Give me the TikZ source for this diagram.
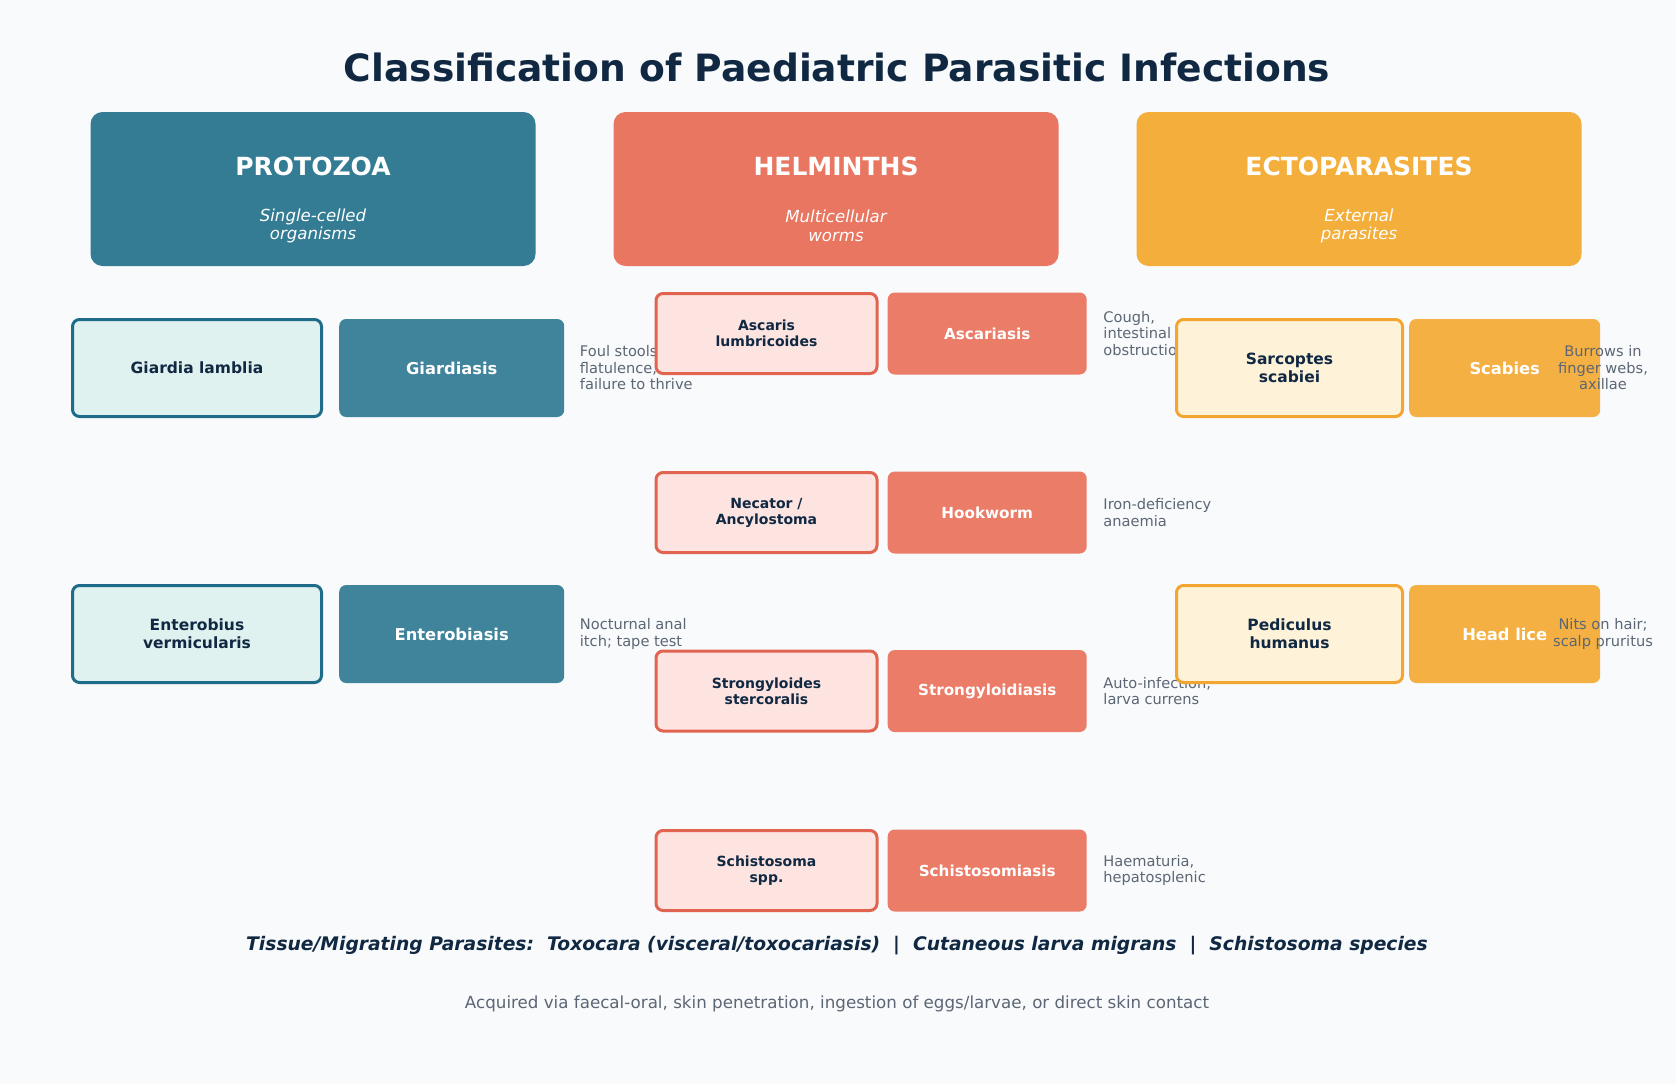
\documentclass[tikz,border=0pt]{standalone}
\usepackage{fontspec}
\setmainfont{DejaVu Sans}
\usetikzlibrary{positioning,calc}
\definecolor{bgpaper}{RGB}{248,250,252}
\definecolor{navyink}{RGB}{16,40,66}
\definecolor{noteink}{RGB}{92,102,116}
\definecolor{protohead}{RGB}{51,124,148}
\definecolor{protodis}{RGB}{64,132,156}
\definecolor{protoline}{RGB}{30,108,138}
\definecolor{protofill}{RGB}{224,242,240}
\definecolor{helmhead}{RGB}{232,118,96}
\definecolor{helmdis}{RGB}{234,124,104}
\definecolor{helmline}{RGB}{224,100,80}
\definecolor{helmfill}{RGB}{253,228,225}
\definecolor{ectohead}{RGB}{244,174,59}
\definecolor{ectodis}{RGB}{244,176,66}
\definecolor{ectoline}{RGB}{242,165,48}
\definecolor{ectofill}{RGB}{254,242,217}
\tikzset{
  grouphead/.style={fill=#1,rounded corners=12pt,minimum width=445pt,minimum height=154pt},
  group title/.style={font=\fontsize{25}{29}\selectfont\bfseries,text=white},
  group sub/.style={font=\fontsize{16.6}{18.5}\selectfont\itshape,text=white,align=center},
  species/.style={draw=#1line,fill=#1fill,line width=3pt,rounded corners=7pt,
    text=navyink,align=center},
  disease/.style={fill=#1dis,rounded corners=7pt,text=white,align=center},
  note/.style={text=noteink,font=\fontsize{14.6}{16.5}\selectfont},
  % one size per column
  proto sp/.style={species=proto,minimum width=249pt,minimum height=97pt,
    font=\fontsize{15.5}{18}\selectfont\bfseries},
  proto dis/.style={disease=proto,minimum width=225pt,minimum height=98pt,
    font=\fontsize{16.3}{19}\selectfont\bfseries},
  helm sp/.style={species=helm,minimum width=221pt,minimum height=80pt,
    font=\fontsize{14}{16}\selectfont\bfseries},
  helm dis/.style={disease=helm,minimum width=199pt,minimum height=82pt,
    font=\fontsize{15.2}{18}\selectfont\bfseries},
  ecto sp/.style={species=ecto,minimum width=226pt,minimum height=97pt,
    font=\fontsize{15.5}{18}\selectfont\bfseries},
  ecto dis/.style={disease=ecto,minimum width=191pt,minimum height=98pt,
    font=\fontsize{16.3}{19}\selectfont\bfseries},
}
\begin{document}
\begin{tikzpicture}[x=1pt,y=-1pt]
  \useasboundingbox[fill=bgpaper] (0,0) rectangle (1676,1084);
  \node[font=\fontsize{37.6}{44}\selectfont\bfseries,text=navyink] (title) at (837,67)
    {Classification of Paediatric Parasitic Infections};

  % group headers
  \node[grouphead=protohead] (pz) at (313,189) {};
  \node[group title] (pzt) at ([yshift=23pt]pz.center) {PROTOZOA};
  \node[group sub] (pzs) at ([yshift=-37pt]pz.center) {Single-celled\\organisms};
  \node[grouphead=helmhead] (hm) at (836,189) {};
  \node[group title] (hmt) at ([yshift=23pt]hm.center) {HELMINTHS};
  \node[group sub] (hms) at ([yshift=-37pt]hm.center) {Multicellular\\worms};
  \node[grouphead=ectohead] (ec) at (1359,189) {};
  \node[group title] (ect) at ([yshift=23pt]ec.center) {ECTOPARASITES};
  \node[group sub] (ecs) at ([yshift=-37pt]ec.center) {External\\parasites};

  % protozoa
  \node[proto sp] (gl) at (197,368) {Giardia lamblia};
  \node[proto dis,right=16pt of gl] (gd) {Giardiasis};
  \node[note,align=left,right=12pt of gd] (gdn) {Foul stools,\\flatulence,\\failure to thrive};
  \node[proto sp] (ev) at (197,634) {Enterobius\\vermicularis};
  \node[proto dis,right=16pt of ev] (ed) {Enterobiasis};
  \node[note,align=left,right=12pt of ed] (edn) {Nocturnal anal\\itch; tape test};

  % helminths
  \node[helm sp] (al) at (766.5,333.5) {Ascaris\\lumbricoides};
  \node[helm dis,right=9pt of al] (ad) {Ascariasis};
  \node[note,align=left,right=13pt of ad] (adn) {Cough,\\intestinal\\obstruction};
  \node[helm sp] (na) at (766.5,512.5) {Necator /\\Ancylostoma};
  \node[helm dis,right=9pt of na] (hw) {Hookworm};
  \node[note,align=left,right=13pt of hw] (hwn) {Iron-deficiency\\anaemia};
  \node[helm sp] (ss) at (766.5,691) {Strongyloides\\stercoralis};
  \node[helm dis,right=9pt of ss] (sd) {Strongyloidiasis};
  \node[note,align=left,right=13pt of sd] (sdn) {Auto-infection;\\larva currens};
  \node[helm sp] (sc) at (766.5,870.5) {Schistosoma\\spp.};
  \node[helm dis,right=9pt of sc] (scd) {Schistosomiasis};
  \node[note,align=left,right=13pt of scd] (scn) {Haematuria,\\hepatosplenic};

  % ectoparasites
  \node[ecto sp] (sb) at (1289.5,368) {Sarcoptes\\scabiei};
  \node[ecto dis,right=5pt of sb] (sbd) {Scabies};
  \node[note,align=center] (sbn) at (1603,368) {Burrows in\\finger webs,\\axillae};
  \node[ecto sp] (ph) at (1289.5,634) {Pediculus\\humanus};
  \node[ecto dis,right=5pt of ph] (hl) {Head lice};
  \node[note,align=center] (hln) at (1603,634) {Nits on hair;\\scalp pruritus};

  % footer
  \node[font=\fontsize{18.7}{22}\selectfont\bfseries\itshape,text=navyink] (tissue) at (837,946)
    {Tissue/Migrating Parasites:\ \ Toxocara (visceral/toxocariasis)\ \ |\ \ Cutaneous larva migrans\ \ |\ \ Schistosoma species};
  \node[font=\fontsize{16.7}{20}\selectfont,text=noteink] (route) at (837,1004)
    {Acquired via faecal-oral, skin penetration, ingestion of eggs/larvae, or direct skin contact};
\end{tikzpicture}
\end{document}
